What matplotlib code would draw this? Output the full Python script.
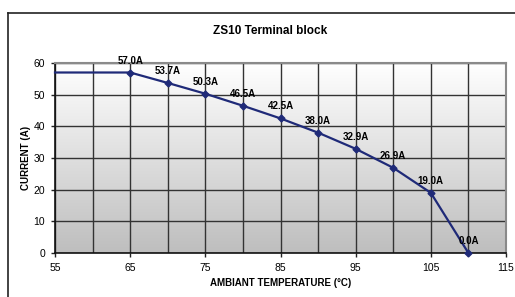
import matplotlib
matplotlib.use("Agg")
import matplotlib.pyplot as plt
import numpy as np
from matplotlib.ticker import MultipleLocator
from matplotlib.lines import Line2D

temps = [55, 65, 70, 75, 80, 85, 90, 95, 100, 105, 110]
current = [57.0, 57.0, 53.7, 50.3, 46.5, 42.5, 38.0, 32.9, 26.9, 19.0, 0.0]
labels = ["57.0A", "53.7A", "50.3A", "46.5A", "42.5A", "38.0A",
          "32.9A", "26.9A", "19.0A", "0.0A"]
xticks = [55, 65, 75, 85, 95, 105, 115]

plt.rcParams['font.family'] = ['Liberation Sans', 'DejaVu Sans']

fig = plt.figure(figsize=(5.15, 2.97), dpi=100)
ax = fig.add_axes([55/515, 1-253/297, (506-55)/515, (253-63)/297])

# outer frame (top and left only, rest is cut off)
fig.add_artist(Line2D([8/515, 1], [1-13/297, 1-13/297], transform=fig.transFigure,
                      color='#222222', lw=1.2))
fig.add_artist(Line2D([8/515, 8/515], [1-13/297, 0], transform=fig.transFigure,
                      color='#222222', lw=1.2))

# gradient background
grad = np.linspace(1, 0, 256).reshape(-1, 1)
ax.imshow(grad, extent=[0, 1, 0, 1], transform=ax.transAxes, aspect='auto',
          cmap=matplotlib.colors.LinearSegmentedColormap.from_list('g', ['#bebebe', '#ffffff']),
          vmin=0, vmax=1, zorder=0)

ax.plot(temps, current, color='#1f2a78', lw=1.6, marker='D', ms=3.5,
        markevery=list(range(1, len(temps))), zorder=4, clip_on=False)
for x, y, t in zip(temps[1:], current[1:], labels):
    ax.text(x, y + 2.2, t, ha='center', va='bottom', fontsize=7,
            fontweight='bold', zorder=5)

ax.set_xlim(55, 115)
ax.set_ylim(0, 60)
ax.set_xticks(xticks)
ax.xaxis.set_minor_locator(MultipleLocator(5))
ax.yaxis.set_major_locator(MultipleLocator(10))
ax.grid(which='both', color='#333333', lw=1.0, zorder=1)
ax.set_axisbelow(True)
ax.tick_params(which='minor', length=0)
ax.tick_params(which='major', labelsize=7.5, length=3, width=1, color='#222222', pad=4)

for s in ['top', 'right']:
    ax.spines[s].set_color('#8a8a8a')
    ax.spines[s].set_linewidth(1.5)
for s in ['left', 'bottom']:
    ax.spines[s].set_color('#111111')
    ax.spines[s].set_linewidth(1.2)

ax.set_xlabel("AMBIANT TEMPERATURE (\u00b0C)", fontsize=7, fontweight='bold', labelpad=4)
ax.set_ylabel("CURRENT (A)", fontsize=7, fontweight='bold', labelpad=2)
fig.text(270/515, 1-31/297, "ZS10 Terminal block", ha='center', va='center',
         fontsize=8.5, fontweight='bold')

fig.savefig("out.png", dpi=100)
